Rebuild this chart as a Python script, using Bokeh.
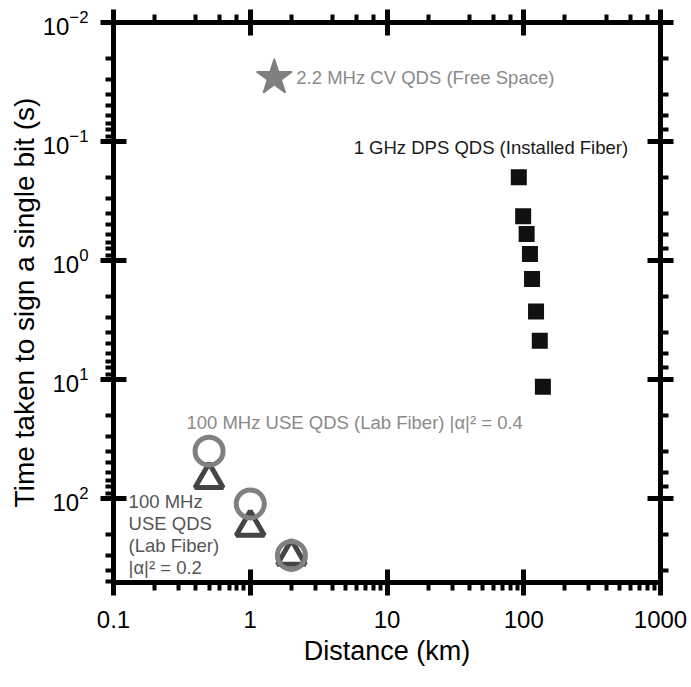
from bokeh.plotting import figure
from bokeh.models import Range1d, LogAxis, CustomJSTickFormatter
from bokeh.core.properties import value
from bokeh.embed import file_html
from bokeh.resources import INLINE

FONT = "Liberation Sans"

# ---- data ----
dps_distance = [92, 99, 105, 111, 115, 123, 131, 138]
dps_time = [0.20, 0.425, 0.60, 0.88, 1.43, 2.68, 4.73, 11.5]

use04_distance = [0.5, 1, 2]
use04_time = [40, 111, 301]

use02_distance = [0.5, 1, 2]
use02_time = [69, 174, 305]

cv_distance = [1.5]
cv_time = [0.029]

label_cv = "2.2 MHz CV QDS (Free Space)"
label_dps = "1 GHz DPS QDS (Installed Fiber)"
label_use04 = "100 MHz USE QDS (Lab Fiber) |\u03b1|\u00b2 = 0.4"
label_use02 = "100 MHz\nUSE QDS\n(Lab Fiber)\n|\u03b1|\u00b2 = 0.2"

# label anchor positions (data coordinates)
dps_label_pos = (57.5, 0.112)
use04_label_pos = (5.8, 22.9)
use02_label_pos = (0.129, 86)

p = figure(width=691, height=687, x_axis_type="log", y_axis_type="log",
           x_range=Range1d(0.1, 1000), y_range=Range1d(508, 0.01),
           output_backend="svg", toolbar_location=None,
           min_border_left=113, min_border_right=31, min_border_top=22,
           min_border_bottom=105)
p.grid.visible = False
p.outline_line_color = None
p.background_fill_color = "white"
p.border_fill_color = "white"


def style_axis(ax, labels=True):
    ax.axis_line_width = 5
    ax.axis_line_color = "black"
    ax.axis_line_cap = "square"
    ax.major_tick_line_width = 5
    ax.major_tick_line_color = "black"
    ax.minor_tick_line_width = 4
    ax.minor_tick_line_color = "black"
    ax.major_tick_in = 13
    ax.major_tick_out = 13
    ax.minor_tick_in = 0
    ax.minor_tick_out = 8
    ax.major_label_text_font = FONT
    if labels:
        ax.major_label_text_color = "black"
        ax.major_label_text_font_size = "24px"
        ax.major_label_standoff = 12
    else:
        ax.major_label_text_color = None
        ax.major_label_text_font_size = "1px"
        ax.major_label_standoff = 0


xa = p.xaxis[0]
ya = p.yaxis[0]
style_axis(xa)
style_axis(ya)
xa.major_label_standoff = 15
xa.formatter = CustomJSTickFormatter(code="return String(tick)")
xa.axis_label = "Distance (km)"
ya.axis_label = "Time taken to sign a single bit (s)"
for ax in (xa, ya):
    ax.axis_label_text_font = FONT
    ax.axis_label_text_font_style = "normal"
    ax.axis_label_text_color = "black"
xa.axis_label_text_font_size = "27px"
ya.axis_label_text_font_size = "28px"
xa.axis_label_standoff = 5
ya.axis_label_standoff = 0

top = LogAxis(formatter=CustomJSTickFormatter(code="return ' '"))
right = LogAxis(formatter=CustomJSTickFormatter(code="return ' '"))
style_axis(top, labels=False)
style_axis(right, labels=False)
p.add_layout(top, "above")
p.add_layout(right, "right")

# circles (|alpha|^2 = 0.4) and triangles (|alpha|^2 = 0.2)
p.scatter(use02_distance, use02_time, marker="triangle", size=28,
          fill_color=None, line_color="#444444", line_width=5)
p.scatter(use04_distance, use04_time, marker="circle", size=28,
          fill_color=None, line_color="#808080", line_width=5)

# DPS squares
p.scatter(dps_distance, dps_time, marker="square", size=16,
          fill_color="#111111", line_color=None)

# CV star
p.scatter(cv_distance, cv_time, marker="star", size=36,
          fill_color="#7f7f7f", line_color="#7f7f7f", line_width=2,
          line_join="round")

# annotations
p.text(x=cv_distance, y=cv_time, text=[label_cv], x_offset=22,
       text_align="left", text_baseline="middle",
       text_font=value(FONT), text_font_size="18.5px", text_color="#8a8a8a")
p.text(x=[dps_label_pos[0]], y=[dps_label_pos[1]], text=[label_dps],
       text_align="center", text_baseline="middle",
       text_font=value(FONT), text_font_size="18.5px", text_color="#1a1a1a")
p.text(x=[use04_label_pos[0]], y=[use04_label_pos[1]], text=[label_use04],
       text_align="center", text_baseline="middle",
       text_font=value(FONT), text_font_size="18.5px", text_color="#8a8a8a")
p.text(x=[use02_label_pos[0]], y=[use02_label_pos[1]], text=[label_use02],
       text_align="left", text_baseline="top", text_line_height=1.05,
       text_font=value(FONT), text_font_size="18.5px", text_color="#555555")

open("out.html", "w").write(file_html(p, INLINE))
